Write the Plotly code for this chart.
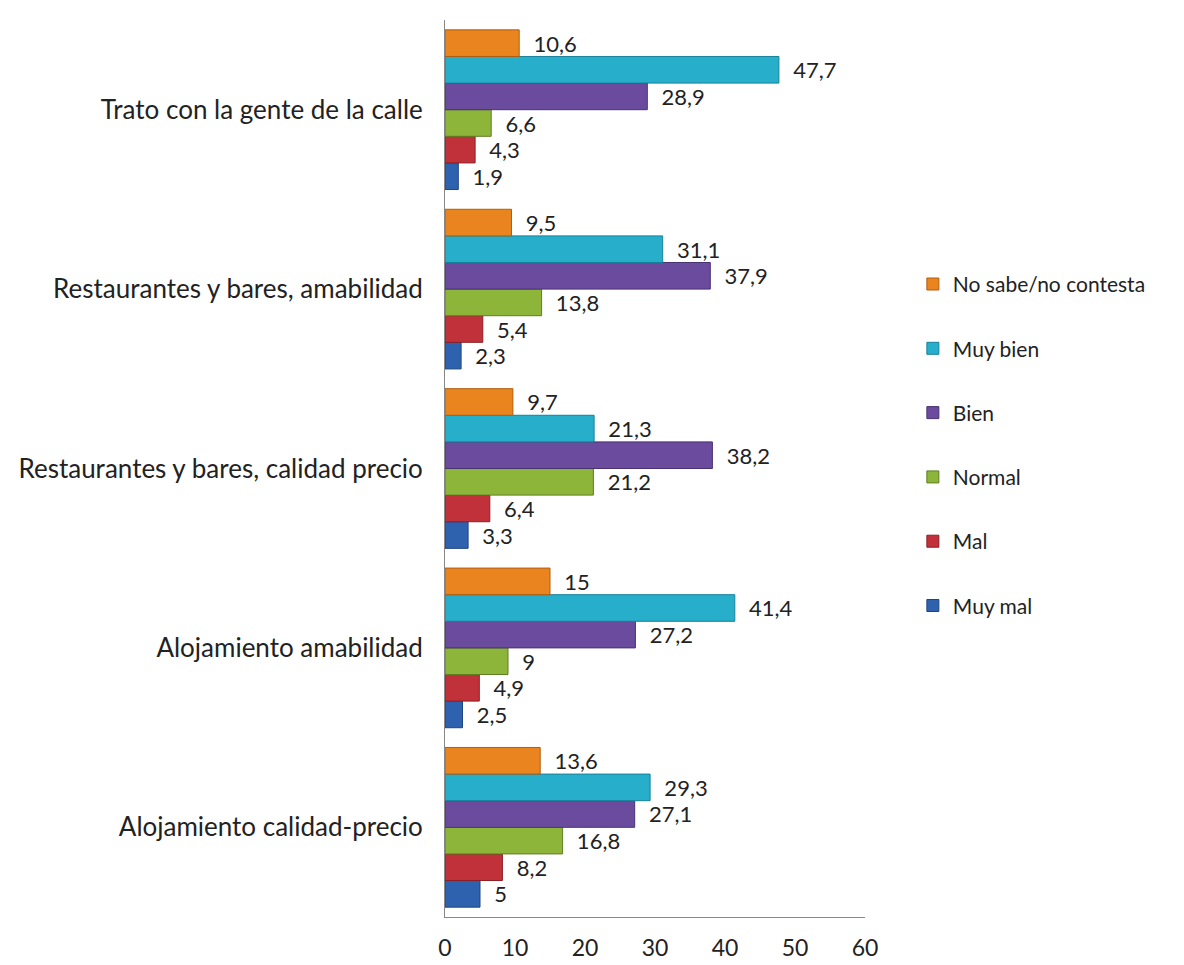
import plotly.graph_objects as go

categories = [
    "Alojamiento calidad-precio",
    "Alojamiento amabilidad",
    "Restaurantes y bares, calidad precio",
    "Restaurantes y bares, amabilidad",
    "Trato con la gente de la calle",
]
series_names = ["Muy mal", "Mal", "Normal", "Bien", "Muy bien", "No sabe/no contesta"]
muy_mal = [5, 2.5, 3.3, 2.3, 1.9]
mal = [8.2, 4.9, 6.4, 5.4, 4.3]
normal = [16.8, 9, 21.2, 13.8, 6.6]
bien = [27.1, 27.2, 38.2, 37.9, 28.9]
muy_bien = [29.3, 41.4, 21.3, 31.1, 47.7]
no_sabe = [13.6, 15, 9.7, 9.5, 10.6]
x_ticks = [0, 10, 20, 30, 40, 50, 60]

values = [muy_mal, mal, normal, bien, muy_bien, no_sabe]
colors = ["#2E62AE", "#C1313A", "#8DB53A", "#6B4B9E", "#26AECA", "#EA841F"]
lines = ["#1E4580", "#8A1F27", "#5F7D22", "#483270", "#17809A", "#B05E10"]

fig = go.Figure()
n = len(series_names)
for i, (name, vals, c, lc) in enumerate(zip(series_names, values, colors, lines)):
    fig.add_trace(go.Bar(
        y=categories, x=vals, name=name, orientation="h",
        marker=dict(color=c, line=dict(color=lc, width=1)),
        text=vals, texttemplate="  %{x}", textposition="outside",
        constraintext="none",
        textfont=dict(size=22, color="#222222", family="Lato"),
        cliponaxis=False, legendgroup=name, legendrank=n - i,
    ))

fig.update_layout(
    width=1184, height=965,
    paper_bgcolor="white", plot_bgcolor="white",
    separators=",.",
    barmode="group", bargap=0.11, bargroupgap=0.0,
    margin=dict(l=445, r=319, t=20, b=48, autoexpand=False),
    font=dict(family="Lato", size=22, color="#222222"),
    xaxis=dict(range=[0, 60], tickvals=x_ticks, showgrid=False, zeroline=False,
               showline=True, linecolor="#888888", linewidth=1, automargin=False,
               ticks="outside", ticklen=10, tickcolor="rgba(0,0,0,0)",
               tickfont=dict(size=23)),
    yaxis=dict(showgrid=False, showline=True, linecolor="#888888", linewidth=1,
               automargin=False, ticks="outside", ticklen=16,
               tickcolor="rgba(0,0,0,0)", tickfont=dict(size=26)),
    legend=dict(xref="container", yref="container", x=0.771, y=0.539,
                xanchor="left", yanchor="middle", traceorder="grouped",
                font=dict(size=21), tracegroupgap=34, itemwidth=30),
    showlegend=True,
)

fig.write_html("out.html", config={"displayModeBar": False},
               post_script="document.body.style.margin='0';")
